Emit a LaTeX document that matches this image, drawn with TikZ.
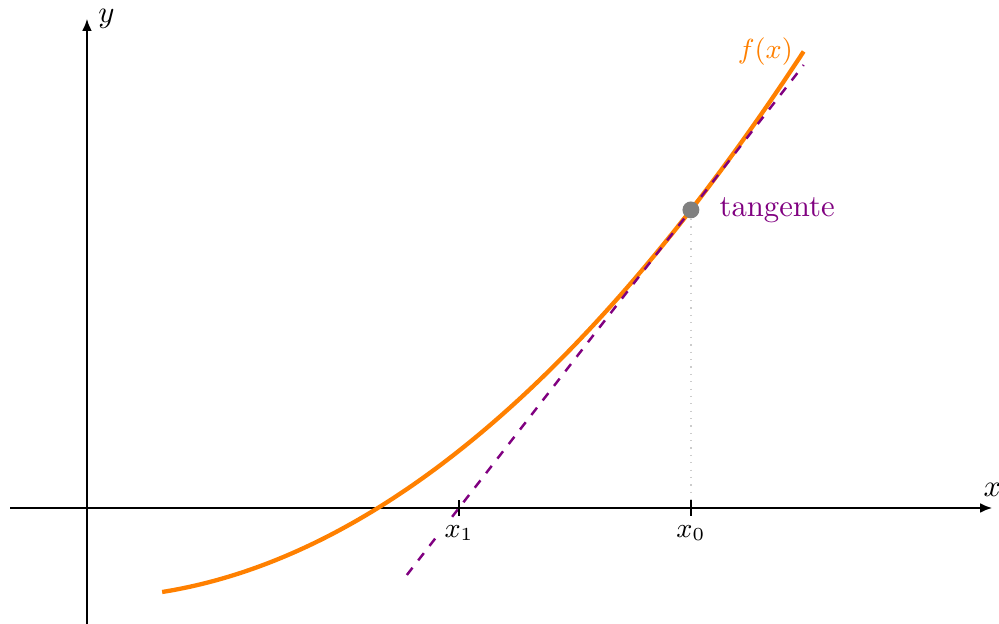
\documentclass[tikz,border=0pt]{standalone}
\usepackage{amsmath}
\usetikzlibrary{arrows.meta,positioning,calc}

\begin{document}
\begin{tikzpicture}[>={Latex[length=4pt,width=3.2pt]}, every node/.style={font=\small},
  declare function={f(\x)=0.093*\x*\x-1.03; fp(\x)=0.186*\x;}]
\useasboundingbox (-0.995,-1.327) rectangle (10.435,5.812);
\pgfmathsetmacro\xz{6.91}
\pgfmathsetmacro\yz{f(\xz)}
\pgfmathsetmacro\mz{fp(\xz)}
\pgfmathsetmacro\xa{\xz-\yz/\mz}
% axes
\coordinate (O) at (0,0);
\coordinate (xmin) at (-0.88,0);
\coordinate (xmax) at (10.36,0);
\coordinate (ymin) at (0,-1.33);
\coordinate (ymax) at (0,5.6);
\draw[thick,->] (xmin) -- (xmax) node[above,font=\normalsize] (xlab) {$x$};
\draw[thick,->] (ymin) -- (ymax) node[right,font=\normalsize] (ylab) {$y$};
% curve and tangent
\draw[orange,line width=1.4pt,smooth,samples=60,domain=0.86:8.2] plot (\x,{f(\x)});
\coordinate (fend) at (8.2,{f(8.2)});
\node[left,orange] (flab) at (fend) {$f(x)$};
\coordinate (ta) at (3.66,{\yz+\mz*(3.66-\xz)});
\coordinate (tb) at (8.2,{\yz+\mz*(8.2-\xz)});
\draw[violet,thick,dashed] (ta) -- (tb);
% point and ticks
\node[circle,fill=gray,inner sep=0pt,minimum size=5.5pt] (P) at (\xz,\yz) {};
\node[right=1mm of P,violet,font=\normalsize] (tlab) {tangente};
\draw[gray!40,dotted] (P) -- (P |- O);
\foreach \t/\lab/\nm in {\xa/x_1/xone,\xz/x_0/xzero}{
  \draw[thick] (\t,0.09) -- (\t,-0.09);
  \node[below,fill=white,inner sep=2pt] (\nm) at (\t,-0.12) {$\lab$};
}
\end{tikzpicture}
\end{document}
